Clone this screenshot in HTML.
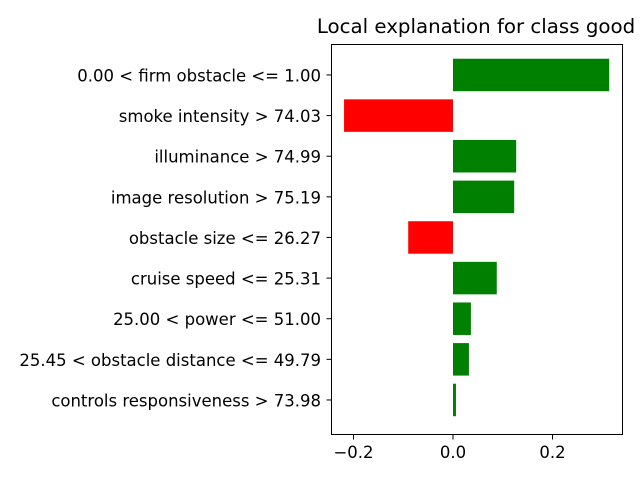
<!DOCTYPE html>
<html><head><meta charset="utf-8"><style>
html,body{margin:0;padding:0;background:#fff;}
svg{display:block;font-family:"DejaVu Sans","Liberation Sans",sans-serif;}
</style></head><body>
<svg id="chart" width="640" height="480" viewBox="0 0 640 480">
<rect x="0" y="0" width="640" height="480" fill="#fff"/>
<text x="476" y="33" font-size="19.8" text-anchor="middle" fill="#000">Local explanation for class good</text>
<g id="bars"></g>
<g id="yticks"></g>
<g id="xticks"></g>
<rect x="331.5" y="44.5" width="291" height="390" fill="none" stroke="#000" stroke-width="1"/>
</svg>
<script>
const categories = ["0.00 < firm obstacle <= 1.00","smoke intensity > 74.03","illuminance > 74.99","image resolution > 75.19","obstacle size <= 26.27","cruise speed <= 25.31","25.00 < power <= 51.00","25.45 < obstacle distance <= 49.79","controls responsiveness > 73.98"];
const values = [0.314,-0.219,0.127,0.123,-0.090,0.088,0.036,0.032,0.006];
const xTickValues = [-0.2,0.0,0.2];
const xTickLabels = ["\u22120.2","0.0","0.2"];

const NS="http://www.w3.org/2000/svg";
const x0=453, pxPerUnit=497.5;
function xScale(v){return x0+v*pxPerUnit;}
const plotTop=44.5, plotBottom=434.5, nCat=categories.length;
const step=(plotBottom-plotTop)/(nCat+0.6);
function yScale(i){return plotTop+step*0.75+i*step;}
const barH=step*0.8;
const gb=document.getElementById('bars'), gy=document.getElementById('yticks'), gx=document.getElementById('xticks');
function mk(tag,attrs){const e=document.createElementNS(NS,tag);for(const k in attrs)e.setAttribute(k,attrs[k]);return e;}
values.forEach((v,i)=>{
  const xa=xScale(Math.min(0,v)), xb=xScale(Math.max(0,v));
  const r=mk('rect',{x:xa,y:yScale(i)-barH/2,width:Math.max(xb-xa,0.5),height:barH,fill:v>=0?'#008000':'#ff0000'});
  
  
  gb.appendChild(r);
});
categories.forEach((c,i)=>{
  const y=yScale(i);
  const t=mk('line',{x1:331.5,x2:326.5,y1:y,y2:y,stroke:'#000'});
  
  
  gy.appendChild(t);
  const l=mk('text',{x:321,y:y+6.5,'font-size':16.5,'text-anchor':'end',fill:'#000'});
  l.textContent=c;
  
  
  gy.appendChild(l);
});
xTickValues.forEach((v,i)=>{
  const x=xScale(v);
  const t=mk('line',{x1:x,x2:x,y1:434.5,y2:439.5,stroke:'#000'});
  
  
  gx.appendChild(t);
  const l=mk('text',{x:x,y:458,'font-size':16.5,'text-anchor':'middle',fill:'#000'});
  l.textContent=xTickLabels[i];
  
  
  gx.appendChild(l);
});
</script>
</body></html>
